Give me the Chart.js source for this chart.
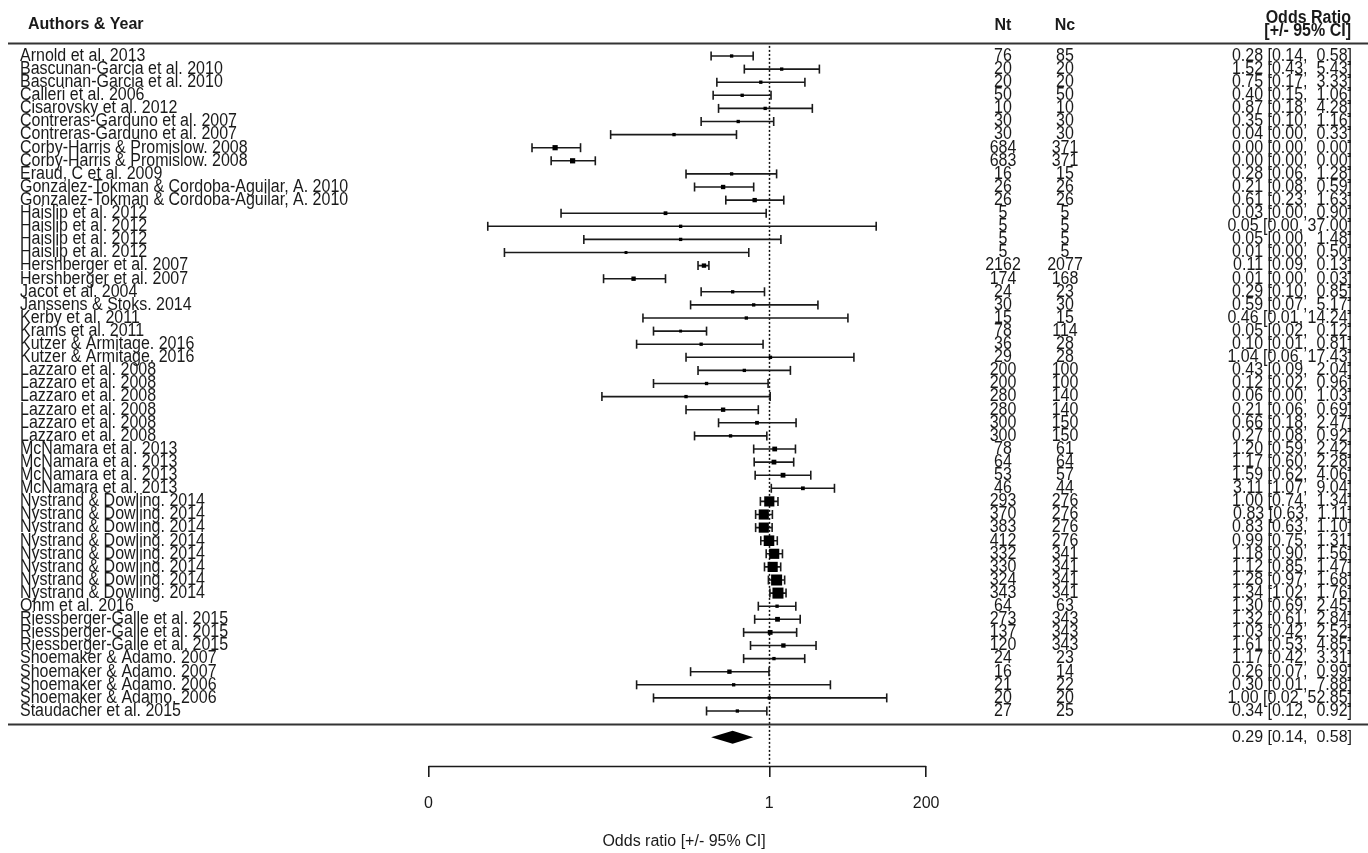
<!DOCTYPE html>
<html>
<head>
<meta charset="utf-8">
<script src="https://cdn.jsdelivr.net/npm/chart.js@4.4.1/dist/chart.umd.min.js"></script>
<style>
  html, body { margin: 0; padding: 0; background: #fff; overflow: hidden; }
  #wrap { position: relative; width: 1368px; height: 853px; }
</style>
</head>
<body>
<div id="wrap"><canvas id="forest"></canvas></div>
<script>
// study labels, top to bottom
const studies = [
  'Arnold et al. 2013', 'Bascunan-Garcia et al. 2010', 'Bascunan-Garcia et al. 2010', 'Calleri et al. 2006',
  'Cisarovsky et al. 2012', 'Contreras-Garduno et al. 2007', 'Contreras-Garduno et al. 2007',
  'Corby-Harris & Promislow. 2008', 'Corby-Harris & Promislow. 2008', 'Eraud, C et al. 2009',
  'Gonzalez-Tokman & Cordoba-Aguilar, A. 2010', 'Gonzalez-Tokman & Cordoba-Aguilar, A. 2010',
  'Haislip et al. 2012', 'Haislip et al. 2012', 'Haislip et al. 2012', 'Haislip et al. 2012',
  'Hershberger et al. 2007', 'Hershberger et al. 2007', 'Jacot et al. 2004', 'Janssens & Stoks. 2014',
  'Kerby et al. 2011', 'Krams et al. 2011', 'Kutzer & Armitage. 2016', 'Kutzer & Armitage. 2016',
  'Lazzaro et al. 2008', 'Lazzaro et al. 2008', 'Lazzaro et al. 2008', 'Lazzaro et al. 2008',
  'Lazzaro et al. 2008', 'Lazzaro et al. 2008',
  'McNamara et al. 2013', 'McNamara et al. 2013', 'McNamara et al. 2013', 'McNamara et al. 2013',
  'Nystrand & Dowling. 2014', 'Nystrand & Dowling. 2014', 'Nystrand & Dowling. 2014', 'Nystrand & Dowling. 2014',
  'Nystrand & Dowling. 2014', 'Nystrand & Dowling. 2014', 'Nystrand & Dowling. 2014', 'Nystrand & Dowling. 2014',
  'Ohm et al. 2016', 'Riessberger-Galle et al. 2015', 'Riessberger-Galle et al. 2015', 'Riessberger-Galle et al. 2015',
  'Shoemaker & Adamo. 2007', 'Shoemaker & Adamo. 2007', 'Shoemaker & Adamo. 2006', 'Shoemaker & Adamo. 2006',
  'Staudacher et al. 2015'
];
const nt = [76, 20, 20, 50, 10, 30, 30, 684, 683, 16, 26, 26, 5, 5, 5, 5, 2162, 174, 24, 30, 15, 78, 36, 29,
  200, 200, 280, 280, 300, 300, 78, 64, 53, 46, 293, 370, 383, 412, 332, 330, 324, 343, 64, 273, 137, 120,
  24, 16, 21, 20, 27];
const nc = [85, 20, 20, 50, 10, 30, 30, 371, 371, 15, 26, 26, 5, 5, 5, 5, 2077, 168, 23, 30, 15, 114, 28, 28,
  100, 100, 140, 140, 150, 150, 61, 64, 57, 44, 276, 276, 276, 276, 341, 341, 341, 341, 63, 343, 343, 343,
  23, 14, 22, 20, 25];
// odds ratios (values shown as 0.00 estimated from the plotted positions)
const orEst = [0.28, 1.52, 0.75, 0.40, 0.87, 0.35, 0.04, 0.00072, 0.0013, 0.28, 0.21, 0.61, 0.03, 0.05, 0.05, 0.0079,
  0.11, 0.0102, 0.29, 0.59, 0.46, 0.05, 0.10, 1.04, 0.43, 0.12, 0.06, 0.21, 0.66, 0.27, 1.20, 1.17, 1.59, 3.11,
  1.00, 0.83, 0.83, 0.99, 1.18, 1.12, 1.28, 1.34, 1.30, 1.32, 1.03, 1.61, 1.17, 0.26, 0.30, 1.00, 0.34];
const orLow = [0.14, 0.43, 0.17, 0.15, 0.18, 0.10, 0.0047, 0.00033, 0.00063, 0.06, 0.08, 0.23, 0.00088, 0.000074, 0.0019, 0.00013,
  0.09, 0.0037, 0.10, 0.07, 0.014, 0.02, 0.0113, 0.06, 0.09, 0.02, 0.0035, 0.06, 0.18, 0.08, 0.59, 0.60, 0.62, 1.07,
  0.74, 0.63, 0.63, 0.75, 0.90, 0.85, 0.97, 1.02, 0.69, 0.61, 0.42, 0.53, 0.42, 0.07, 0.0113, 0.02, 0.12];
const orHigh = [0.58, 5.43, 3.33, 1.06, 4.28, 1.16, 0.33, 0.0017, 0.0028, 1.28, 0.59, 1.63, 0.90, 37.00, 1.48, 0.50,
  0.13, 0.03, 0.85, 5.17, 14.24, 0.12, 0.81, 17.43, 2.04, 0.96, 1.03, 0.69, 2.47, 0.92, 2.42, 2.28, 4.06, 9.04,
  1.34, 1.11, 1.10, 1.31, 1.56, 1.47, 1.68, 1.76, 2.45, 2.84, 2.52, 4.85, 3.31, 0.99, 7.88, 52.85, 0.92];
// relative study weights (%)
const weights = [1.2, 1.2, 1.2, 1.2, 1.2, 1.2, 1.2, 2.5, 2.5, 1.2, 1.9, 1.9, 1.5, 1.2, 1.2, 0.9,
  1.9, 1.9, 1.2, 1.2, 1.2, 0.9, 1.2, 1.2, 1.2, 1.2, 1.2, 1.9, 1.5, 1.2, 2.2, 2.2, 2.2, 1.5,
  5.9, 5.9, 5.9, 6.2, 5.9, 5.9, 6.5, 6.5, 1.2, 2.2, 2.2, 1.9, 1.2, 1.9, 1.2, 1.2, 1.2];
const summaryOR = [0.29, 0.14, 0.58];
const tickValues = [0.00001, 1, 200];
const tickLabels = ['0', '1', '200'];

const FONT = '"Liberation Sans", Arial, Helvetica, sans-serif';
const INK = '#1a1a1a';

// layout
const rowPx = 13.1, firstRowY = 56, areaBottom = 766;
const pxPerLn = 29.6, nullX = 769.3, W = 1368;
const yMin = 1 - firstRowY / rowPx;
const yMax = yMin + areaBottom / rowPx;
const summaryRow = studies.length + 2;
const stretch = 1.1;
const LW = 1.6;

const rows = studies.map((s, i) => i + 1);
const ciData = [];
rows.forEach((r, i) => {
  ciData.push({ x: Math.log(orLow[i]), y: r }, { x: Math.log(orHigh[i]), y: r }, { x: NaN, y: NaN });
});
const capData = rows.flatMap((r, i) => [{ x: Math.log(orLow[i]), y: r }, { x: Math.log(orHigh[i]), y: r }]);
const estData = rows.map((r, i) => ({ x: Math.log(orEst[i]), y: r }));
const sideOf = w => 1.6 + 1.45 * w;

function fmtCI(est, lo, hi) {
  return est.toFixed(2) + ' [' + lo.toFixed(2) + ', ' + hi.toFixed(2).padStart(5, ' ') + ']';
}

// text drawn a little taller than wide, like the original device output
function tallText(ctx, s, x, y) {
  ctx.save();
  ctx.translate(x, y);
  ctx.scale(1, stretch);
  ctx.fillText(s, 0, 0);
  ctx.restore();
}

const forestPlugin = {
  id: 'forestExtras',
  beforeDatasetsDraw(chart) {
    const ctx = chart.ctx, xs = chart.scales.x, ys = chart.scales.y;
    ctx.save();
    // header/footer rules
    ctx.strokeStyle = '#333';
    ctx.lineWidth = 2;
    [0, studies.length + 1].forEach(v => {
      const y = Math.round(ys.getPixelForValue(v)) + 0.5;
      ctx.beginPath(); ctx.moveTo(8, y); ctx.lineTo(W, y); ctx.stroke();
    });
    // reference line at OR = 1
    const x0 = Math.round(xs.getPixelForValue(0)) + 0.5;
    ctx.strokeStyle = '#111';
    ctx.lineWidth = 1.5;
    ctx.setLineDash([2, 2]);
    ctx.beginPath(); ctx.moveTo(x0, ys.getPixelForValue(0) + 3); ctx.lineTo(x0, chart.chartArea.bottom); ctx.stroke();
    ctx.restore();
  },
  afterDraw(chart) {
    const ctx = chart.ctx, xs = chart.scales.x, ys = chart.scales.y;
    ctx.save();
    // pooled estimate diamond
    const yc = ys.getPixelForValue(summaryRow);
    ctx.fillStyle = '#000';
    ctx.beginPath();
    ctx.moveTo(xs.getPixelForValue(Math.log(summaryOR[1])), yc);
    ctx.lineTo(xs.getPixelForValue(Math.log(summaryOR[0])), yc - 6.5);
    ctx.lineTo(xs.getPixelForValue(Math.log(summaryOR[2])), yc);
    ctx.lineTo(xs.getPixelForValue(Math.log(summaryOR[0])), yc + 6.5);
    ctx.closePath(); ctx.fill();

    // axis line between the outer ticks
    const ay = Math.round(chart.chartArea.bottom) + 0.5;
    ctx.strokeStyle = INK; ctx.lineWidth = LW;
    ctx.beginPath();
    ctx.moveTo(xs.getPixelForValue(Math.log(tickValues[0])), ay);
    ctx.lineTo(xs.getPixelForValue(Math.log(tickValues[tickValues.length - 1])), ay);
    ctx.stroke();

    // headers
    ctx.fillStyle = INK;
    ctx.textBaseline = 'middle';
    ctx.font = 'bold 16px ' + FONT;
    ctx.textAlign = 'left';
    ctx.fillText('Authors & Year', 28, 25);
    ctx.textAlign = 'center';
    ctx.fillText('Nt', 1003, 26);
    ctx.fillText('Nc', 1065, 26);
    ctx.textAlign = 'right';
    tallText(ctx, 'Odds Ratio', 1351, 18);
    tallText(ctx, '[+/- 95% CI]', 1351, 31);

    // study rows
    ctx.font = '16px ' + FONT;
    studies.forEach((s, i) => {
      const y = ys.getPixelForValue(i + 1);
      ctx.textAlign = 'left';
      tallText(ctx, s, 20, y);
      ctx.textAlign = 'center';
      tallText(ctx, String(nt[i]), 1003, y);
      tallText(ctx, String(nc[i]), 1065, y);
      ctx.textAlign = 'right';
      tallText(ctx, fmtCI(orEst[i], orLow[i], orHigh[i]), 1352, y);
    });
    ctx.textAlign = 'right';
    ctx.fillText(fmtCI(summaryOR[0], summaryOR[1], summaryOR[2]), 1352, yc);
    ctx.restore();
  }
};

new Chart(document.getElementById('forest'), {
  type: 'scatter',
  data: {
    datasets: [
      {
        label: 'estimate',
        data: estData,
        pointStyle: 'rect',
        pointRadius: weights.map(w => sideOf(w) / Math.SQRT2),
        pointBackgroundColor: '#000',
        pointBorderWidth: 0,
        showLine: false
      },
      {
        label: 'caps',
        data: capData,
        pointStyle: 'line',
        rotation: 90,
        pointRadius: 4.5,
        pointBorderColor: INK,
        pointBorderWidth: LW,
        showLine: false
      },
      {
        label: 'ci',
        data: ciData,
        showLine: true,
        spanGaps: false,
        borderColor: INK,
        borderWidth: LW,
        pointRadius: 0
      }
    ]
  },
  options: {
    responsive: true,
    maintainAspectRatio: false,
    animation: false,
    events: [],
    layout: { padding: 0, autoPadding: false },
    plugins: { legend: { display: false }, tooltip: { enabled: false } },
    scales: {
      x: {
        type: 'linear',
        position: 'bottom',
        min: -nullX / pxPerLn,
        max: (W - nullX) / pxPerLn,
        afterBuildTicks: s => { s.ticks = tickValues.map(v => ({ value: Math.log(v) })); },
        afterFit: s => { s.height = 853 - areaBottom; },
        ticks: {
          autoSkip: false,
          maxRotation: 0,
          padding: 17,
          color: INK,
          font: { family: FONT, size: 16 },
          callback: (v, i) => tickLabels[i]
        },
        grid: { drawOnChartArea: false, drawTicks: true, tickLength: 11, color: INK, lineWidth: LW },
        border: { display: false },
        title: {
          display: true,
          text: 'Odds ratio [+/- 95% CI]',
          color: INK,
          font: { family: FONT, size: 16 },
          padding: { top: 4, bottom: 2 }
        }
      },
      y: {
        type: 'linear',
        display: false,
        reverse: true,
        min: yMin,
        max: yMax
      }
    }
  },
  plugins: [forestPlugin]
});
</script>
</body>
</html>
